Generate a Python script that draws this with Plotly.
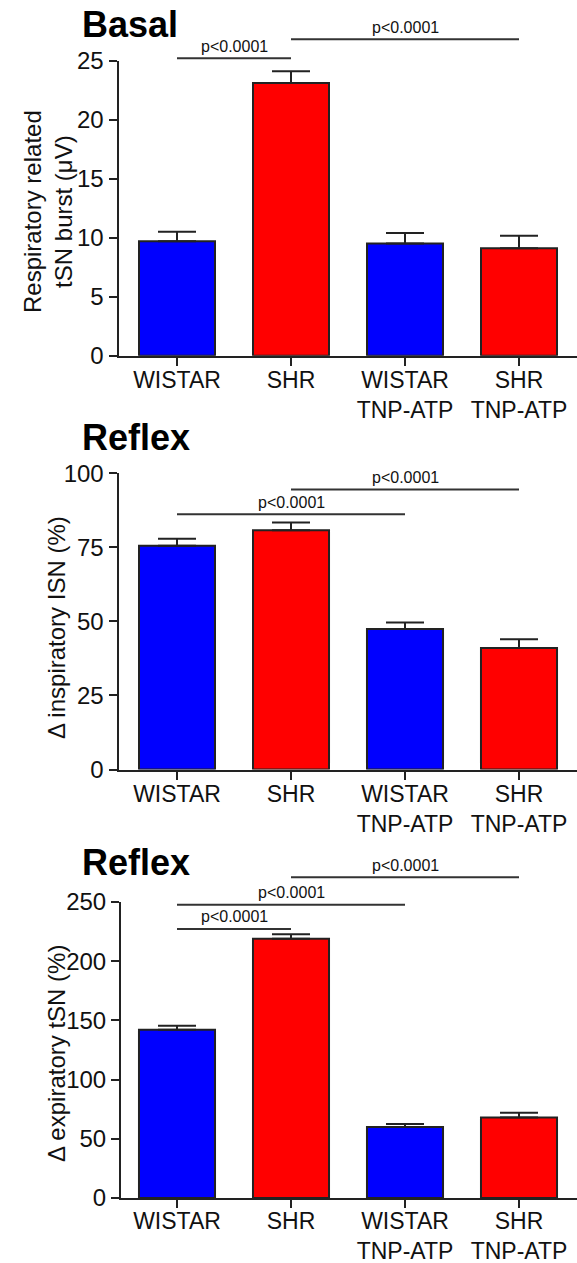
import plotly.graph_objects as go

# ---------------- data ----------------
categories = ["WISTAR", "SHR", "WISTAR<br>TNP-ATP", "SHR<br>TNP-ATP"]
bar_colors = ["#0000FF", "#FF0000", "#0000FF", "#FF0000"]

basal_mean = [9.7, 23.1, 9.5, 9.1]
basal_upper = [10.5, 24.1, 10.4, 10.15]

insp_mean = [75.5, 80.8, 47.4, 41.0]
insp_upper = [77.9, 83.4, 49.6, 44.0]

exp_mean = [142.0, 219.0, 60.0, 68.0]
exp_upper = [145.5, 222.8, 62.5, 72.0]

# comparisons: (from category, to category, bracket level in data units)
basal_comp = [(0, 1, 25.2), (1, 3, 26.8)]
insp_comp = [(0, 2, 86.2), (1, 3, 94.5)]
exp_comp = [(0, 1, 227.2), (0, 2, 247.7), (1, 3, 270.9)]
p_label = "p<0.0001"

panel_titles = ["Basal", "Reflex", "Reflex"]
y_titles = ["Respiratory related<br>tSN burst (\u03bcV)",
            "\u0394 inspiratory ISN (%)",
            "\u0394 expiratory tSN (%)"]
y_ranges = [[0, 25], [0, 100], [0, 250]]
y_dticks = [5, 25, 50]

# ---------------- layout constants (pixels) ----------------
W, H = 577, 1263
FONT = "Arial, 'Liberation Sans', Helvetica, sans-serif"
INK = "#222222"

# plot-area boxes: (left px, top px, bottom px)
boxes = [(118.5, 60.5, 355.7), (118.5, 473.3, 769.5), (121.0, 902.0, 1198.0)]
cat0_px = 177.0     # pixel center of first category
cat_step = 114.0    # pixel spacing between categories
title_y_px = [24.2, 437.2, 862.0]
ytitle_px = [(48.0, 212.0), (56.0, 628.0), (56.0, 1054.0)]
xlabel_standoff = [-5, -5, -7]
p_shift_px = 12.0

means = [basal_mean, insp_mean, exp_mean]
uppers = [basal_upper, insp_upper, exp_upper]
comps = [basal_comp, insp_comp, exp_comp]

fig = go.Figure()
annotations = []
shapes = []
layout_axes = {}

for k in range(3):
    left, top, bottom = boxes[k]
    xr0 = (left - cat0_px) / cat_step
    xr1 = (W - cat0_px) / cat_step
    xname = "x" if k == 0 else f"x{k+1}"
    yname = "y" if k == 0 else f"y{k+1}"
    xkey = "xaxis" if k == 0 else f"xaxis{k+1}"
    ykey = "yaxis" if k == 0 else f"yaxis{k+1}"

    xs = list(range(len(categories)))
    err = [u - m for u, m in zip(uppers[k], means[k])]
    fig.add_trace(go.Bar(
        x=xs, y=means[k], xaxis=xname, yaxis=yname,
        marker=dict(color=bar_colors, line=dict(color=INK, width=2)),
        error_y=dict(type="data", symmetric=False, array=err,
                     arrayminus=[0] * len(err), color=INK,
                     thickness=2, width=19),
        showlegend=False, hoverinfo="skip",
    ))

    layout_axes[xkey] = dict(
        domain=[left / W, 1.0], range=[xr0, xr1], anchor=yname,
        tickmode="array", tickvals=xs, ticktext=categories, tickangle=0,
        showline=True, linecolor=INK, linewidth=2,
        ticks="outside", ticklen=8, tickwidth=2, tickcolor=INK,
        ticklabelstandoff=xlabel_standoff[k],
        showgrid=False, zeroline=False, fixedrange=True, automargin=False,
        tickfont=dict(family=FONT, size=23, color="#111111"),
    )
    layout_axes[ykey] = dict(
        domain=[1 - bottom / H, 1 - top / H], range=y_ranges[k], anchor=xname,
        tickmode="linear", tick0=0, dtick=y_dticks[k],
        showline=True, linecolor=INK, linewidth=2,
        ticks="outside", ticklen=8, tickwidth=2, tickcolor=INK,
        showgrid=False, zeroline=False, fixedrange=True, automargin=False,
        tickfont=dict(family=FONT, size=24, color="#111111"),
    )

    ymin, ymax = y_ranges[k]
    plot_h = bottom - top
    for (i, j, lvl) in comps[k]:
        yd = (lvl - ymin) / (ymax - ymin)
        shapes.append(dict(
            type="line", xref=f"{xname} domain", yref=f"{yname} domain",
            x0=(i - xr0) / (xr1 - xr0), x1=(j - xr0) / (xr1 - xr0),
            y0=yd, y1=yd,
            line=dict(color="#333333", width=2),
        ))
        annotations.append(dict(
            xref=f"{xname} domain", yref=f"{yname} domain",
            x=((i + j) / 2 - xr0) / (xr1 - xr0),
            y=yd + p_shift_px / plot_h,
            text=p_label, showarrow=False, xanchor="center", yanchor="middle",
            font=dict(family=FONT, size=16, color="#111111"),
        ))

    annotations.append(dict(
        xref="paper", yref="paper", x=80 / W, y=1 - title_y_px[k] / H,
        text=f"<b>{panel_titles[k]}</b>", showarrow=False,
        xanchor="left", yanchor="middle",
        font=dict(family=FONT, size=36, color="#000000"),
    ))
    tx, ty = ytitle_px[k]
    annotations.append(dict(
        xref="paper", yref="paper", x=tx / W, y=1 - ty / H,
        text=y_titles[k], showarrow=False, textangle=-90,
        xanchor="center", yanchor="middle",
        font=dict(family=FONT, size=24, color="#111111"),
    ))

fig.update_layout(
    width=W, height=H, autosize=False,
    margin=dict(l=0, r=0, t=0, b=0, autoexpand=False),
    paper_bgcolor="white", plot_bgcolor="white",
    bargap=0.333, showlegend=False,
    annotations=annotations, shapes=shapes,
    **layout_axes,
)

fig.write_html(
    "out.html",
    config={"displayModeBar": False, "staticPlot": True},
    post_script="document.body.style.margin='0';document.body.style.overflow='hidden';",
)
